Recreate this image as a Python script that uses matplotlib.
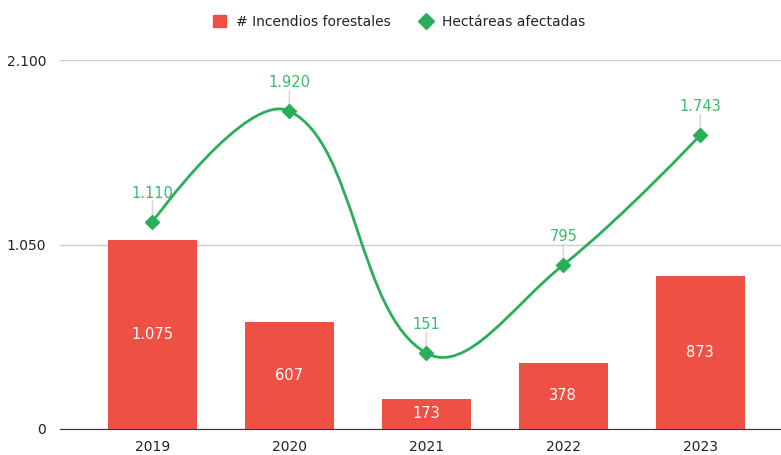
import numpy as np
import matplotlib.pyplot as plt
from matplotlib.path import Path
from matplotlib.patches import PathPatch, Patch
from matplotlib.lines import Line2D

years = ['2019', '2020', '2021', '2022', '2023']
incendios = [1075, 607, 173, 378, 873]
hectareas = [1110, 1920, 151, 795, 1743]
incendios_lbl = ['1.075', '607', '173', '378', '873']
hectareas_lbl = ['1.110', '1.920', '151', '795', '1.743']
yticks = [0, 1050, 2100]
ytick_lbl = ['0', '1.050', '2.100']

RED = '#EF5044'
GREEN = '#2BAE5A'
GREEN_TXT = '#3BBA68'

plt.rcParams['font.family'] = 'DejaVu Sans'
fig = plt.figure(figsize=(7.81, 4.55), dpi=100)
ax = fig.add_axes([60 / 781, 26 / 455, 721 / 781, 369 / 455])
x = np.arange(len(years))
xlim = (-0.675, 4.59)

ax.bar(x, incendios, width=0.65, color=RED, zorder=2)
for xi, v, s in zip(x, incendios, incendios_lbl):
    ax.text(xi, v / 2, s, ha='center', va='center', color='white', fontsize=10.5, zorder=3)

ax.set_xlim(*xlim)
ax.set_ylim(0, 2100)
ax.set_yticks(yticks)
ax.set_yticklabels(ytick_lbl)
ax.set_xticks(x)
ax.set_xticklabels(years)
ax.tick_params(length=0, labelsize=10, colors='#222222', pad=8)
ax.tick_params(axis='y', pad=10)
ax.grid(axis='y', color='#cccccc', lw=1, zorder=0)
for sp in ['top', 'right', 'left']:
    ax.spines[sp].set_visible(False)
ax.spines['bottom'].set_color('#333333')

# secondary scale for the line
ax2 = ax.twinx()
ax2.set_ylim(-404, 2293)
ax2.set_xlim(*xlim)
ax2.axis('off')

# smooth line, handles weighted by segment length (pixel-like units), none at the ends
px = 137.0
py = 0.1368
P = np.column_stack([x * px, np.array(hectareas) * py])
n = len(P)
cp_prev = P.copy()
cp_next = P.copy()
t = 0.4
for i in range(1, n - 1):
    prev, nxt = P[i - 1], P[i + 1]
    d01 = np.hypot(*(P[i] - prev))
    d12 = np.hypot(*(nxt - P[i]))
    s01 = d01 / (d01 + d12)
    cp_prev[i] = P[i] - t * s01 * (nxt - prev)
    cp_next[i] = P[i] + t * (1 - s01) * (nxt - prev)

verts = [P[0]]
codes = [Path.MOVETO]
for i in range(1, n):
    verts += [cp_next[i - 1], cp_prev[i], P[i]]
    codes += [Path.CURVE4] * 3
verts = np.array(verts) / np.array([px, py])
ax2.add_patch(PathPatch(Path(verts, codes), fill=False, edgecolor=GREEN, lw=2, zorder=4))
ax2.plot(x, hectareas, linestyle='none', marker='D', ms=7, color=GREEN, zorder=5)

for xi, v, s in zip(x, hectareas, hectareas_lbl):
    ax2.annotate('', xy=(xi, v), xytext=(0, 15), textcoords='offset points',
                 xycoords='data', arrowprops=dict(arrowstyle='-', color='#d4d4d4', lw=1,
                                                  shrinkA=0, shrinkB=3), zorder=3)
    ax2.annotate(s, xy=(xi, v), xytext=(0, 15), textcoords='offset points',
                 ha='center', va='bottom', color=GREEN_TXT, fontsize=10.5)

handles = [Patch(color=RED), Line2D([], [], marker='D', color=GREEN, linestyle='none', ms=8)]
leg = fig.legend(handles, ['# Incendios forestales', 'Hectáreas afectadas'], loc='center',
                 bbox_to_anchor=(0.511, 1 - 22 / 455), ncol=2, frameon=False,
                 fontsize=10, handlelength=1.0, handleheight=1.0, columnspacing=2.0,
                 handletextpad=0.7)
for txt in leg.get_texts():
    txt.set_color('#222222')

fig.savefig('out.png', dpi=100)
